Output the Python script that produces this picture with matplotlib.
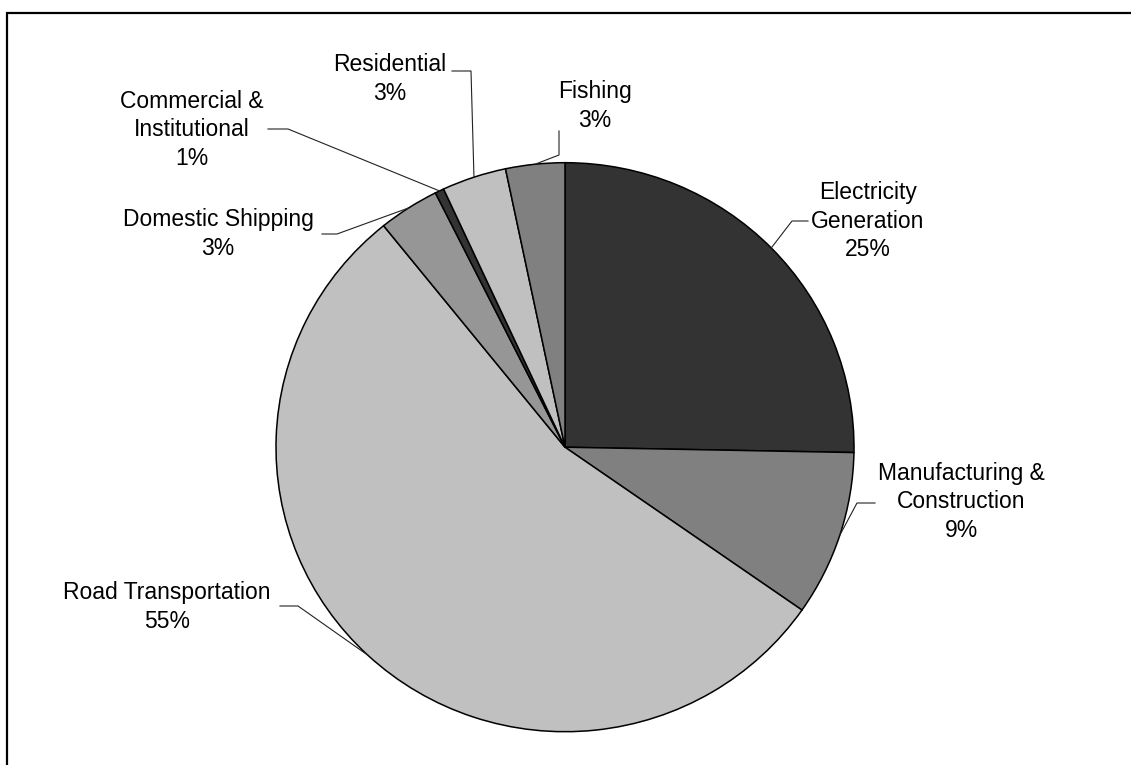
import numpy as np
import matplotlib.pyplot as plt
from matplotlib.patches import Rectangle
from matplotlib.lines import Line2D

plt.rcParams['font.family'] = ['Liberation Sans', 'DejaVu Sans']

# data
sectors = ["Electricity\nGeneration", "Manufacturing &\nConstruction", "Road Transportation",
           "Domestic Shipping", "Commercial &\nInstitutional", "Residential", "Fishing"]
shares = [25.3, 9.4, 54.5, 3.4, 0.5, 3.6, 3.3]
pct_labels = ["25%", "9%", "55%", "3%", "1%", "3%", "3%"]
colors = ["#333333", "#808080", "#c0c0c0", "#969696", "#333333", "#c0c0c0", "#808080"]

W, H = 1131, 765
fig = plt.figure(figsize=(W / 100, H / 100), dpi=100)

def fx(px):
    return px / W

def fy(py):
    return 1 - py / H

# pie centre and radii in pixels
cx, cy, rx, ry = 565, 447.2, 289, 284.5
ax = fig.add_axes([fx(cx - rx), fy(cy + ry), 2 * rx / W, 2 * ry / H])
wedges, _ = ax.pie(shares, colors=colors, startangle=90, counterclock=False,
                   radius=1, wedgeprops=dict(edgecolor="black", linewidth=1.1))
ax.set_xlim(-1, 1)
ax.set_ylim(-1, 1)
ax.set_aspect('auto')
ax.axis('off')

# label layout: text centre, leader start, leader elbow (pixels from top-left)
text_pos = [(868, 221), (961, 502), (167, 607), (218, 234), (192, 130), (390, 79), (595, 106)]
lead_pts = [[(808, 221), (792, 221)],
            [(875, 503), (857, 503)],
            [(280, 606), (298, 606)],
            [(322, 234), (337, 234)],
            [(268, 129), (288, 129)],
            [(452, 71), (471, 71)],
            [(559, 131), (559, 155)]]

for w, name, pct, tp, pts in zip(wedges, sectors, pct_labels, text_pos, lead_pts):
    fig.text(fx(tp[0]), fy(tp[1]), name + "\n" + pct, ha='center', va='center',
             fontsize=16.5, linespacing=1.3, color='black')
    mid = np.deg2rad((w.theta1 + w.theta2) / 2)
    px = cx + rx * np.cos(mid)
    py = cy - ry * np.sin(mid)
    xs = [fx(p[0]) for p in pts] + [fx(px)]
    ys = [fy(p[1]) for p in pts] + [fy(py)]
    fig.lines.append(Line2D(xs, ys, transform=fig.transFigure, color='#222222', lw=0.8))

# outer frame (right and bottom edges fall outside the picture)
fig.patches.append(Rectangle((fx(7), -0.1), 1.2, fy(13) + 0.1, transform=fig.transFigure,
                             fill=False, edgecolor='black', lw=1.6))

fig.savefig("out.png", dpi=100)
